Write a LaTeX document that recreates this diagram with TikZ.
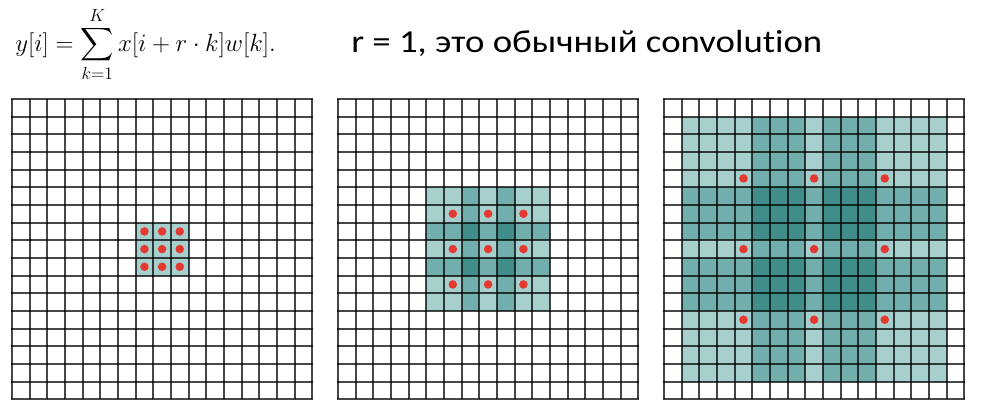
\RequirePackage{fix-cm}
\documentclass[tikz,border=0pt]{standalone}
\usepackage{amsmath}
\usepackage{fontspec}
\newfontfamily\calib[Ligatures={NoCommon}]{Carlito}
\definecolor{tlight}{RGB}{166,207,206}
\definecolor{tmed}{RGB}{114,174,172}
\definecolor{tdark}{RGB}{64,141,137}
\definecolor{dotred}{RGB}{229,57,48}
\tikzset{
  gridline/.style={black, opacity=0.72, line width=1.5pt},
  reddot/.style={fill=dotred},
  caption/.style={anchor=base west, font=\calib\fontsize{24}{29}\selectfont},
}
\begin{document}
\begin{tikzpicture}[x=0.75pt,y=-0.75pt]
\useasboundingbox (0,0) rectangle (983,419);
\def\cs{17.66}
\def\gy{99}
% background
\fill[white] (0,0) rectangle (983,419);
% --- shading grid 1
\foreach \i in {7,8,9}{
  \foreach \j in {7,8,9}{
    \pgfmathsetmacro\xa{round(12+\i*\cs)}\pgfmathsetmacro\xb{round(12+(\i+1)*\cs)}
    \pgfmathsetmacro\ya{round(\gy+\j*\cs)}\pgfmathsetmacro\yb{round(\gy+(\j+1)*\cs)}
    \fill[tlight] (\xa,\ya) rectangle (\xb,\yb);
  }
}
% --- shading grid 2
\foreach \i/\wi in {5/1,6/1,7/2,8/1,9/2,10/1,11/1}{
  \foreach \j/\wj in {5/1,6/1,7/2,8/1,9/2,10/1,11/1}{
    \pgfmathtruncatemacro\p{\wi*\wj}
    \ifcase\p\or\def\col{tlight}\or\def\col{tmed}\or\or\def\col{tdark}\fi
    \pgfmathsetmacro\xa{round(338+\i*\cs)}\pgfmathsetmacro\xb{round(338+(\i+1)*\cs)}
    \pgfmathsetmacro\ya{round(\gy+\j*\cs)}\pgfmathsetmacro\yb{round(\gy+(\j+1)*\cs)}
    \fill[\col] (\xa,\ya) rectangle (\xb,\yb);
  }
}
% --- shading grid 3
\foreach \i/\wi in {1/1,2/1,3/1,4/1,5/2,6/2,7/2,8/1,9/2,10/2,11/2,12/1,13/1,14/1,15/1}{
  \foreach \j/\wj in {1/1,2/1,3/1,4/1,5/2,6/2,7/2,8/1,9/2,10/2,11/2,12/1,13/1,14/1,15/1}{
    \pgfmathtruncatemacro\p{\wi*\wj}
    \ifcase\p\or\def\col{tlight}\or\def\col{tmed}\or\or\def\col{tdark}\fi
    \pgfmathsetmacro\xa{round(664+\i*\cs)}\pgfmathsetmacro\xb{round(664+(\i+1)*\cs)}
    \pgfmathsetmacro\ya{round(\gy+\j*\cs)}\pgfmathsetmacro\yb{round(\gy+(\j+1)*\cs)}
    \fill[\col] (\xa,\ya) rectangle (\xb,\yb);
  }
}
% --- grid lines
\foreach \gx in {12,338,664}{
  \pgfmathsetmacro\xl{round(\gx)-1}\pgfmathsetmacro\xr{round(\gx+17*\cs)+1}
  \pgfmathsetmacro\yt{round(\gy)-1}\pgfmathsetmacro\yb{round(\gy+17*\cs)+1}
  \foreach \k in {0,...,17}{
    \pgfmathsetmacro\xk{round(\gx+\k*\cs)}
    \pgfmathsetmacro\yk{round(\gy+\k*\cs)}
    \draw[gridline] (\xk,\yt+1) -- (\xk,\yb-1);
    \draw[gridline] (\xl,\yk) -- (\xr,\yk);
  }
}
% --- dots
\foreach \i in {7,8,9}{\foreach \j in {7,8,9}{
  \fill[reddot] ({12+(\i+0.5)*\cs},{\gy+(\j+0.5)*\cs}) circle (3.2pt);}}
\foreach \i in {6,8,10}{\foreach \j in {6,8,10}{
  \fill[reddot] ({338+(\i+0.5)*\cs},{\gy+(\j+0.5)*\cs}) circle (3.2pt);}}
\foreach \i in {4,8,12}{\foreach \j in {4,8,12}{
  \fill[reddot] ({664+(\i+0.5)*\cs},{\gy+(\j+0.5)*\cs}) circle (3.2pt);}}
% --- texts
\node[anchor=base west, inner sep=0pt] (formula) at (15,51)
  {\fontsize{18.7}{22}\selectfont$\displaystyle y[i] = \sum_{k=1}^{K} x[i+r\cdot k]w[k].$};
\node[caption, inner sep=0pt] (caption) at (351,52) {\scalebox{1.15}[1]{r = 1, это обычный convolution}};
\end{tikzpicture}
\end{document}
